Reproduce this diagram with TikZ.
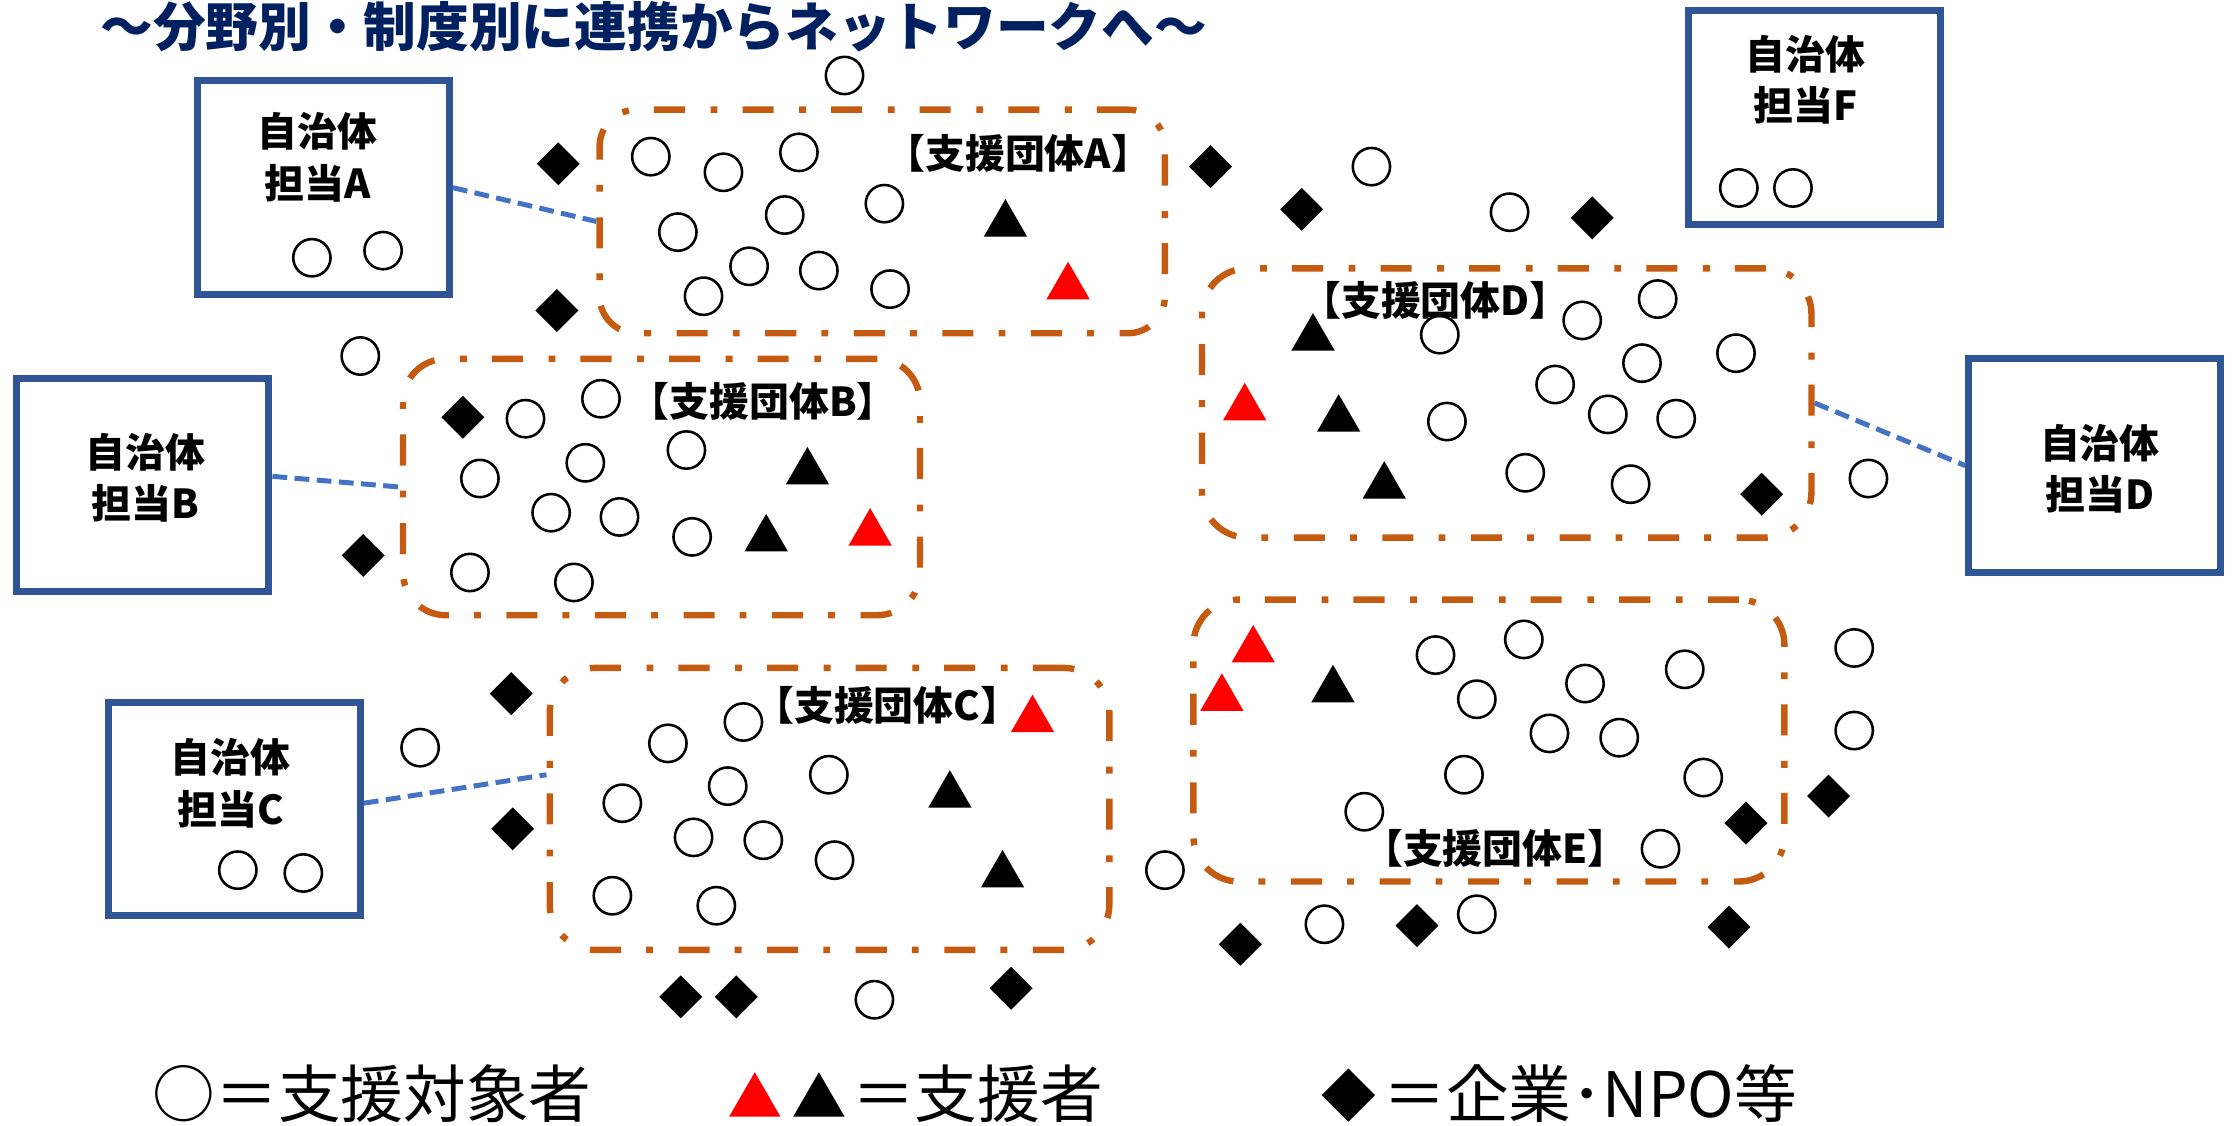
\documentclass[tikz,border=0pt]{standalone}
\usepackage{fontspec}
\newfontfamily\jp{Noto Sans CJK JP}
\usetikzlibrary{shapes.geometric,calc}
\definecolor{navy}{HTML}{002060}
\definecolor{boxblue}{HTML}{2F5597}
\definecolor{linkblue}{HTML}{4472C4}
\definecolor{grporange}{HTML}{C55A11}
\definecolor{supred}{HTML}{FF0000}
\begin{document}
\begin{tikzpicture}[x=0.5pt,y=-0.5pt,
  tgt/.style={circle,draw=black,line width=0.9pt,minimum size=13.1pt,inner sep=0pt},
  corp/.style={diamond,fill=black,minimum width=15.25pt,minimum height=15.25pt,inner sep=0pt},
  helper/.style={regular polygon,regular polygon sides=3,fill=black,minimum size=17.55pt,inner sep=0pt,yshift=-2.19pt},
  helperR/.style={helper,fill=supred},
  bighelper/.style={regular polygon,regular polygon sides=3,fill=black,minimum size=20.8pt,inner sep=0pt,yshift=-2.6pt},
  govbox/.style={draw=boxblue,line width=2.5pt,minimum width=88.5pt,minimum height=75pt,inner sep=0pt},
  grp/.style={draw=grporange,line width=2.25pt,dash pattern=on 10.9pt off 8.8pt on 2.4pt off 9pt,inner sep=0pt},
  link/.style={draw=linkblue,line width=1.75pt,dash pattern=on 5.2pt off 2.6pt},
  boxtext/.style={font=\jp\bfseries\fontsize{14}{18}\selectfont,align=center,inner sep=0pt},
  grplabel/.style={font=\jp\bfseries\fontsize{14}{16}\selectfont,inner sep=0pt},
  legend/.style={font=\jp\fontsize{22}{24}\selectfont,inner sep=0pt,anchor=west},
]
\useasboundingbox (0,0) rectangle (1568,790);

% title
\node[font=\jp\bfseries\fontsize{18.5}{20}\selectfont,text=navy,anchor=base,inner sep=0pt] (title) at (459,33) {～分野別・制度別に連携からネットワークへ～};

% municipal boxes
\node[govbox] (bA) at (227,131.8) {};
\node[govbox] (bF) at (1274,82.4) {};
\node[govbox] (bB) at (100.3,340.5) {};
\node[govbox] (bD) at (1471,327) {};
\node[govbox] (bC) at (164.5,568) {};
\node[boxtext] (tA) at (223,110.4) {自治体\\担当A};
\node[boxtext] (tF) at (1268,55.8) {自治体\\担当F};
\node[boxtext] (tB) at (102,335.3) {自治体\\担当B};
\node[boxtext] (tD) at (1474.5,329.2) {自治体\\担当D};
\node[boxtext] (tC) at (162,550) {自治体\\担当C};

% support groups
\node[grp,minimum width=198.5pt,minimum height=78.5pt,rounded corners=13pt] (gA) at (619.5,155.5) {};
\node[grp,minimum width=181.5pt,minimum height=90pt,rounded corners=15pt] (gB) at (464.5,342) {};
\node[grp,minimum width=196.5pt,minimum height=99pt,rounded corners=16pt] (gC) at (582.5,568) {};
\node[grp,minimum width=214pt,minimum height=94.5pt,rounded corners=16pt] (gD) at (1058,283) {};
\node[grp,minimum width=207.5pt,minimum height=99pt,rounded corners=16pt] (gE) at (1045.5,520) {};
\node[grplabel] (lA) at (715,108) {【支援団体A】};
\node[grplabel] (lB) at (536,282) {【支援団体B】};
\node[grplabel] (lC) at (623,495) {【支援団体C】};
\node[grplabel] (lD) at (1008,211) {【支援団体D】};
\node[grplabel] (lE) at (1050,596) {【支援団体E】};

% links
\draw[link] (bA.east) -- (gA.west);
\draw[link] ($(bB.east)+(0,-6)$) -- (gB.west);
\draw[link] ($(bC.east)+(0,-4)$) -- ($(gC.west)+(0,-24)$);
\draw[link] (gD.east) -- (bD.west);

% circles (support targets)
\node[tgt] (c1) at (219,181) {};
\node[tgt] (c2) at (269,176) {};
\node[tgt] (c3) at (1221,132) {};
\node[tgt] (c4) at (1259,132) {};
\node[tgt] (c5) at (167,611) {};
\node[tgt] (c6) at (213,613) {};
\node[tgt] (c7) at (457,110) {};
\node[tgt] (c8) at (508,121) {};
\node[tgt] (c9) at (561,107) {};
\node[tgt] (c10) at (621,143) {};
\node[tgt] (c11) at (476,163) {};
\node[tgt] (c12) at (551,151) {};
\node[tgt] (c13) at (526,187) {};
\node[tgt] (c14) at (575,190) {};
\node[tgt] (c15) at (494,208) {};
\node[tgt] (c16) at (625,203) {};
\node[tgt] (c17) at (593,53) {};
\node[tgt] (c18) at (253,250) {};
\node[tgt] (c19) at (369,294) {};
\node[tgt] (c20) at (422,280) {};
\node[tgt] (c21) at (482,316) {};
\node[tgt] (c22) at (411,325) {};
\node[tgt] (c23) at (337,336) {};
\node[tgt] (c24) at (387,360) {};
\node[tgt] (c25) at (435,363) {};
\node[tgt] (c26) at (486,377) {};
\node[tgt] (c27) at (330,402) {};
\node[tgt] (c28) at (403,409) {};
\node[tgt] (c29) at (295,525) {};
\node[tgt] (c30) at (522,507) {};
\node[tgt] (c31) at (469,522) {};
\node[tgt] (c32) at (582,544) {};
\node[tgt] (c33) at (511,552) {};
\node[tgt] (c34) at (437,564) {};
\node[tgt] (c35) at (487,588) {};
\node[tgt] (c36) at (536,590) {};
\node[tgt] (c37) at (586,604) {};
\node[tgt] (c38) at (430,629) {};
\node[tgt] (c39) at (503,636) {};
\node[tgt] (c40) at (614,702) {};
\node[tgt] (c41) at (818,611) {};
\node[tgt] (c42) at (963,117) {};
\node[tgt] (c43) at (1060,149) {};
\node[tgt] (c44) at (1011,235) {};
\node[tgt] (c45) at (1111,225) {};
\node[tgt] (c46) at (1164,210) {};
\node[tgt] (c47) at (1219,248) {};
\node[tgt] (c48) at (1153,255) {};
\node[tgt] (c49) at (1092,270) {};
\node[tgt] (c50) at (1016,296) {};
\node[tgt] (c51) at (1129,291) {};
\node[tgt] (c52) at (1177,294) {};
\node[tgt] (c53) at (1071,332) {};
\node[tgt] (c54) at (1145,340) {};
\node[tgt] (c55) at (1312,336) {};
\node[tgt] (c56) at (1008,460) {};
\node[tgt] (c57) at (1070,449) {};
\node[tgt] (c58) at (1037,491) {};
\node[tgt] (c59) at (1113,480) {};
\node[tgt] (c60) at (1183,470) {};
\node[tgt] (c61) at (1088,515) {};
\node[tgt] (c62) at (1137,518) {};
\node[tgt] (c63) at (1028,544) {};
\node[tgt] (c64) at (1196,546) {};
\node[tgt] (c65) at (958,570) {};
\node[tgt] (c66) at (1166,596) {};
\node[tgt] (c67) at (1302,455) {};
\node[tgt] (c68) at (1302,513) {};
\node[tgt] (c69) at (930,649) {};
\node[tgt] (c70) at (1037,642) {};

% diamonds (companies / NPOs)
\node[corp] (d1) at (392,115) {};
\node[corp] (d2) at (391,218) {};
\node[corp] (d3) at (850,117) {};
\node[corp] (d4) at (914,147) {};
\node[corp] (d5) at (1118,153) {};
\node[corp] (d6) at (325,293) {};
\node[corp] (d7) at (255,390) {};
\node[corp] (d8) at (1237,347) {};
\node[corp] (d9) at (359,487) {};
\node[corp] (d10) at (360,582) {};
\node[corp] (d11) at (478,700) {};
\node[corp] (d12) at (517,700) {};
\node[corp] (d13) at (710,694) {};
\node[corp] (d14) at (871,663) {};
\node[corp] (d15) at (995,650) {};
\node[corp] (d16) at (1214,651) {};
\node[corp] (d17) at (1226,578) {};
\node[corp] (d18) at (1284,559) {};

% triangles (supporters)
\node[helper] (t1) at (706,153) {};
\node[helper] (t2) at (567,327) {};
\node[helper] (t3) at (538,374) {};
\node[helper] (t4) at (667,554) {};
\node[helper] (t5) at (704,610) {};
\node[helper] (t6) at (922,233) {};
\node[helper] (t7) at (940,290) {};
\node[helper] (t8) at (972,337) {};
\node[helper] (t9) at (936,480) {};
\node[helperR] (r1) at (750,197) {};
\node[helperR] (r2) at (611,370) {};
\node[helperR] (r3) at (725,501) {};
\node[helperR] (r4) at (874,282) {};
\node[helperR] (r5) at (880,452) {};
\node[helperR] (r6) at (858,486) {};

% legend
\node[legend] (leg1) at (107,768) {○＝支援対象者};
\node[bighelper,fill=supred] (legR) at (530,768.5) {};
\node[bighelper] (legB) at (575,768.5) {};
\node[legend] (leg2) at (598,768) {＝支援者};
\node[corp,minimum width=18.8pt,minimum height=18.8pt] (legD) at (946.8,769) {};
\node[legend] (leg3) at (971,768) {＝企業･NPO等};
\end{tikzpicture}
\end{document}
